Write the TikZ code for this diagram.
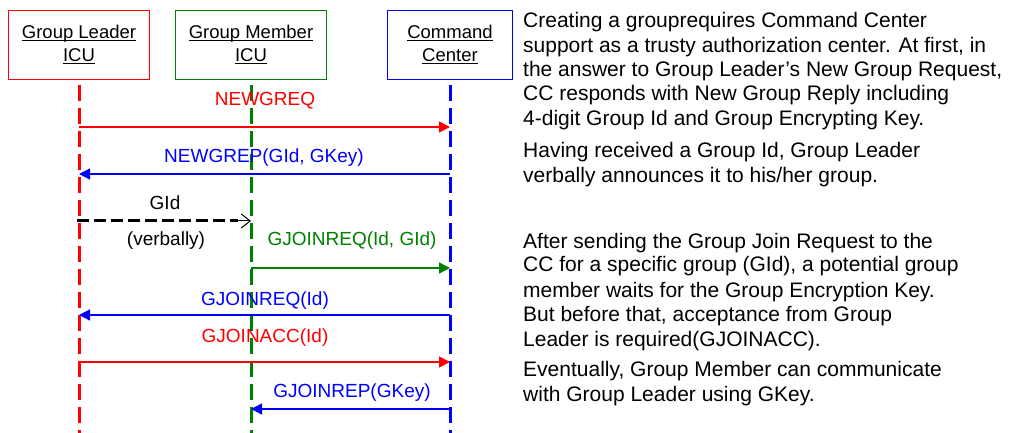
\documentclass[tikz,border=0pt]{standalone}
\usepackage{fontspec}
\setmainfont{Liberation Sans}
\usetikzlibrary{arrows.meta}
\definecolor{cred}{RGB}{255,0,0}
\definecolor{cgreen}{RGB}{0,128,0}
\definecolor{cblue}{RGB}{0,0,255}
% underline drawn as a 1pt rule just below the baseline
\newcommand{\ulinetext}[1]{\setbox0\hbox{#1}\rlap{\rule[-2.5pt]{\wd0}{1pt}}\box0}

\begin{document}
\begin{tikzpicture}[x=1pt, y=-1pt,
  actor/.style={draw=#1, line width=1.1pt, minimum height=69pt, inner sep=0pt,
    align=center, font=\fontsize{18.5}{23}\selectfont},
  life/.style={draw=#1, line width=3pt, dash pattern=on 16pt off 7pt},
  msg/.style={draw=#1, line width=1.3pt, -{Triangle[length=11pt,width=11pt]}},
  lbl/.style={text=#1, anchor=base, inner sep=0pt, font=\fontsize{19}{23}\selectfont},
  note/.style={anchor=base west, inner sep=0pt, font=\fontsize{21}{24}\selectfont},
]
\useasboundingbox (0,0) rectangle (1013,433);

% participants
\node[actor=cred,   minimum width=141pt] (gl) at (79,45)  {\ulinetext{Group Leader}\\\ulinetext{ICU}};
\node[actor=cgreen, minimum width=151pt] (gm) at (251,45) {\ulinetext{Group Member}\\\ulinetext{ICU}};
\node[actor=cblue,  minimum width=125pt] (cc) at (450,45) {\ulinetext{Command}\\\ulinetext{Center}};

% lifelines
\coordinate (bottom) at (0,436);
\draw[life=cred]   ([yshift=-5pt]gl.south) -- (gl.south |- bottom);
\draw[life=cgreen] ([yshift=-5pt]gm.south) -- (gm.south |- bottom);
\draw[life=cblue]  ([yshift=-5pt]cc.south) -- (cc.south |- bottom);

% messages
\node[lbl=cred] (l1) at (265,106) {NEWGREQ};
\draw[msg=cred] (gl.south |- 0,127) -- (cc.south |- 0,127);

\node[lbl=cblue] (l2) at (264,163) {NEWGREP(GId, GKey)};
\draw[msg=cblue] (cc.south |- 0,174) -- (gl.south |- 0,174);

\node[lbl=black] (l3) at (165,210) {GId};
\node[lbl=black] (l3b) at (166,246) {(verbally)};
\draw[black, line width=3pt, dash pattern=on 12pt off 5pt, shorten >=13pt]
  ([xshift=-2pt]gl.south |- 0,221) -- (gm.south |- 0,221);
\draw[black, line width=1pt, -{Straight Barb[length=9pt,width=14pt]}]
  ([xshift=-16pt]gm.south |- 0,221) -- (gm.south |- 0,221);

\node[lbl=cgreen] (l4) at (352,246) {GJOINREQ(Id, GId)};
\draw[msg=cgreen] (gm.south |- 0,268) -- (cc.south |- 0,268);

\node[lbl=cblue] (l5) at (265,305) {GJOINREQ(Id)};
\draw[msg=cblue] (cc.south |- 0,315) -- (gl.south |- 0,315);

\node[lbl=cred] (l6) at (265,342) {GJOINACC(Id)};
\draw[msg=cred] (gl.south |- 0,362) -- (cc.south |- 0,362);

\node[lbl=cblue] (l7) at (352,397) {GJOINREP(GKey)};
\draw[msg=cblue] (cc.south |- 0,409) -- (gm.south |- 0,409);

% explanatory text
\node[note] (t1) at (523,28)  {Creating a grouprequires Command Center};
\node[note] (t2) at (523,53)  {support as a trusty authorization center. At first, in};
\node[note] (t3) at (523,77)  {the answer to Group Leader’s New Group Request,};
\node[note] (t4) at (523,101) {CC responds with New Group Reply including};
\node[note] (t5) at (523,126) {4-digit Group Id and Group Encrypting Key.};

\node[note] (t6) at (523,158) {Having received a Group Id, Group Leader};
\node[note] (t7) at (523,183) {verbally announces it to his/her group.};

\node[note] (t8)  at (523,248) {After sending the Group Join Request to the};
\node[note] (t9)  at (523,272) {CC for a specific group (GId), a potential group};
\node[note] (t10) at (523,297) {member waits for the Group Encryption Key.};
\node[note] (t11) at (523,321) {But before that, acceptance from Group};
\node[note] (t12) at (523,346) {Leader is required(GJOINACC).};

\node[note] (t13) at (523,376) {Eventually, Group Member can communicate};
\node[note] (t14) at (523,401) {with Group Leader using GKey.};
\end{tikzpicture}
\end{document}
